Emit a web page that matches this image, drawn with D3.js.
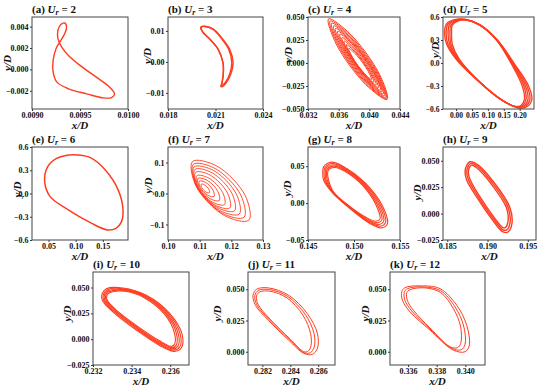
<!DOCTYPE html>
<html>
<head>
<meta charset="utf-8">
<script src="https://cdn.jsdelivr.net/npm/d3@7"></script>
<style>
body { margin: 0; background: #fff; }
</style>
</head>
<body>
<svg id="fig" width="550" height="387" style="font-family: 'Liberation Serif', 'Times New Roman', 'DejaVu Serif', serif; font-weight: bold;"></svg>
<script>
// panel labels and reduced velocities
const labels = ['(a)', '(b)', '(c)', '(d)', '(e)', '(f)', '(g)', '(h)', '(i)', '(j)', '(k)'];
const urValues = [2, 3, 4, 5, 6, 7, 8, 9, 10, 11, 12];

// axis ranges
const xDomains = [[0.009, 0.010], [0.018, 0.024], [0.032, 0.044], [-0.041, 0.245], [0.0196, 0.1963], [0.10, 0.13],
    [0.145, 0.155], [0.18447, 0.19602], [0.232, 0.23697], [0.28097, 0.2872], [0.33474, 0.34137]];
const yDomains = [[-0.0037, 0.0049], [-0.0152, 0.0145], [-0.05, 0.05], [-0.6, 0.6], [-0.6, 0.6], [-0.15, 0.15],
    [-0.05, 0.076], [-0.025, 0.063], [-0.025, 0.065], [-0.0106, 0.0638], [-0.0106, 0.0638]];

// tick values
const xTicks = [[0.009, 0.0095, 0.010], [0.018, 0.021, 0.024], [0.032, 0.036, 0.040, 0.044], [0, 0.05, 0.10, 0.15, 0.20],
    [0.05, 0.10, 0.15], [0.10, 0.11, 0.12, 0.13], [0.145, 0.150, 0.155], [0.185, 0.190, 0.195],
    [0.232, 0.234, 0.236], [0.282, 0.284, 0.286], [0.336, 0.338, 0.340]];
const yTicks = [[-0.002, 0, 0.002, 0.004], [-0.01, 0, 0.01], [-0.05, -0.025, 0, 0.025, 0.05], [-0.6, -0.3, 0, 0.3, 0.6],
    [-0.6, -0.3, 0, 0.3, 0.6], [-0.1, 0, 0.1], [-0.05, 0, 0.05], [-0.025, 0, 0.025, 0.05],
    [-0.025, 0, 0.025, 0.05], [0, 0.025, 0.05], [0, 0.025, 0.05]];
const xFormats = ['.4f', '.3f', '.3f', '.2f', '.2f', '.2f', '.3f', '.3f', '.3f', '.3f', '.3f'];
const yFormats = ['.3f', '.2f', '.3f', '.1f', '.1f', '.1f', '.2f', '.3f', '.3f', '.3f', '.3f'];

// trajectories (x/D, y/D), each panel is a list of loops
const trajA = [[[0.00934, 0.00434], [0.00936, 0.00397], [0.00934, 0.00334], [0.00930, 0.00272], [0.00925, 0.00194],
    [0.00922, 0.00084], [0.00922, -0.00025], [0.00926, -0.00119], [0.00938, -0.00181], [0.00957, -0.00228],
    [0.00974, -0.00266], [0.00983, -0.00263], [0.00986, -0.00228], [0.00981, -0.00166], [0.00967, -0.00072],
    [0.00950, 0.00038], [0.00938, 0.00131], [0.00931, 0.00209], [0.00927, 0.00288], [0.00927, 0.00366],
    [0.00930, 0.00419]]];
const trajB = [
    [[0.02137, -0.00804], [0.02168, -0.00674], [0.02196, -0.00402], [0.02211, -0.00022], [0.02189, 0.00413],
     [0.02137, 0.00793], [0.02084, 0.01065], [0.02032, 0.01152], [0.02006, 0.01120], [0.02021, 0.00957],
     [0.02063, 0.00739], [0.02116, 0.00413], [0.02147, -0.00022], [0.02149, -0.00402], [0.02141, -0.00674]],
    [[0.02134, -0.00790], [0.02162, -0.00665], [0.02189, -0.00400], [0.02203, -0.00020], [0.02183, 0.00410],
     [0.02133, 0.00790], [0.02082, 0.01058], [0.02032, 0.01145], [0.02008, 0.01118], [0.02021, 0.00957],
     [0.02063, 0.00739], [0.02116, 0.00413], [0.02147, -0.00022], [0.02149, -0.00402], [0.02141, -0.00674]]];
const trajC = [
    [[0.04232, -0.0396], [0.04132, -0.0122], [0.0375, 0.0316], [0.03468, 0.048], [0.03568, 0.0206], [0.0395, -0.0232]],
    [[0.04222, -0.0385], [0.0412, -0.0125], [0.03754, 0.0296], [0.03488, 0.0457], [0.0359, 0.0197], [0.03957, -0.0224]],
    [[0.04212, -0.0373], [0.04109, -0.0127], [0.03757, 0.0276], [0.03508, 0.0433], [0.03611, 0.0187], [0.03963, -0.0216]],
    [[0.04197, -0.03545], [0.04096, -0.0125], [0.03765, 0.02545], [0.03534, 0.04045], [0.03634, 0.0175], [0.03965, -0.02045]],
    [[0.04181, -0.0336], [0.04083, -0.0123], [0.03773, 0.0233], [0.03559, 0.0376], [0.03657, 0.0163], [0.03967, -0.0193]],
    [[0.04163, -0.0315], [0.04071, -0.01185], [0.03783, 0.02115], [0.03587, 0.0345], [0.0368, 0.01485], [0.03968, -0.01815]],
    [[0.04145, -0.0294], [0.04059, -0.0114], [0.03793, 0.0190], [0.03615, 0.0314], [0.03702, 0.0134], [0.03968, -0.0170]],
    [[0.04117, -0.02665], [0.04039, -0.0107], [0.03801, 0.0165], [0.03643, 0.02765], [0.03722, 0.0117], [0.0396, -0.0155]],
    [[0.04089, -0.0239], [0.04018, -0.0100], [0.03808, 0.0140], [0.03671, 0.0239], [0.03742, 0.0100], [0.03952, -0.0140]],
    [[0.04059, -0.0209], [0.03998, -0.009], [0.03819, 0.01145], [0.03702, 0.0199], [0.03762, 0.008], [0.03941, -0.01245]],
    [[0.04028, -0.0179], [0.03978, -0.0080], [0.0383, 0.0089], [0.03732, 0.0159], [0.03782, 0.0060], [0.0393, -0.0109]]];
const trajD = [
    [[-0.036, 0.40], [-0.030, 0.51], [-0.005, 0.565], [0.030, 0.570], [0.075, 0.500], [0.130, 0.300], [0.185, -0.020],
     [0.228, -0.300], [0.238, -0.480], [0.222, -0.570], [0.195, -0.585], [0.140, -0.470], [0.060, -0.200], [0.000, 0.050], [-0.030, 0.250]],
    [[-0.031, 0.40], [-0.026, 0.505], [-0.003, 0.56], [0.030, 0.568], [0.0745, 0.499], [0.129, 0.30], [0.183, -0.02],
     [0.223, -0.30], [0.232, -0.478], [0.218, -0.565], [0.193, -0.58], [0.139, -0.469], [0.0605, -0.199], [0.0025, 0.05], [-0.026, 0.25]],
    [[-0.025, 0.40], [-0.021, 0.50], [0.000, 0.555], [0.030, 0.565], [0.074, 0.498], [0.128, 0.300], [0.180, -0.020],
     [0.218, -0.300], [0.226, -0.475], [0.213, -0.560], [0.190, -0.575], [0.138, -0.468], [0.061, -0.198], [0.005, 0.050], [-0.021, 0.250]],
    [[-0.019, 0.40], [-0.016, 0.495], [0.003, 0.55], [0.030, 0.5625], [0.0735, 0.4965], [0.1275, 0.30], [0.1775, -0.02],
     [0.213, -0.30], [0.22, -0.4725], [0.209, -0.555], [0.1875, -0.57], [0.1375, -0.4665], [0.0615, -0.1965], [0.0075, 0.05], [-0.0165, 0.25]],
    [[-0.014, 0.40], [-0.012, 0.49], [0.005, 0.545], [0.030, 0.560], [0.073, 0.495], [0.127, 0.300], [0.175, -0.020],
     [0.208, -0.300], [0.215, -0.470], [0.205, -0.550], [0.185, -0.565], [0.137, -0.465], [0.062, -0.195], [0.010, 0.050], [-0.012, 0.250]]];
const trajE = [[[0.104, 0.497], [0.128, 0.46], [0.155, 0.30], [0.178, 0.05], [0.187, -0.2], [0.184, -0.37],
    [0.174, -0.45], [0.158, -0.47], [0.128, -0.38], [0.085, -0.205], [0.053, -0.04], [0.043, 0.15],
    [0.048, 0.34], [0.064, 0.45], [0.084, 0.495]]];
const trajF = [
    [[0.12553, -0.086], [0.12437, -0.0064], [0.11547, 0.0882], [0.10773, 0.1032], [0.10889, 0.0236], [0.11779, -0.071]],
    [[0.12402, -0.0767], [0.12297, -0.005], [0.11495, 0.0803], [0.10798, 0.0939], [0.10903, 0.0222], [0.11705, -0.0631]],
    [[0.12252, -0.0663], [0.1216, -0.0022], [0.11446, 0.0738], [0.10822, 0.0857], [0.10914, 0.0216], [0.11628, -0.0544]],
    [[0.12101, -0.0559], [0.12019, 0.0002], [0.11391, 0.0669], [0.10847, 0.0775], [0.10929, 0.0214], [0.11557, -0.0453]],
    [[0.11951, -0.0466], [0.11878, 0.0015], [0.11338, 0.0589], [0.10871, 0.0682], [0.10944, 0.0201], [0.11484, -0.0373]],
    [[0.11785, -0.0357], [0.11725, 0.0032], [0.11287, 0.0497], [0.10909, 0.0573], [0.10969, 0.0184], [0.11407, -0.0281]],
    [[0.1162, -0.0228], [0.11573, 0.007], [0.11237, 0.0427], [0.10948, 0.0486], [0.10995, 0.0188], [0.11331, -0.0168]],
    [[0.11454, -0.0097], [0.11421, 0.0109], [0.11187, 0.0357], [0.10988, 0.0399], [0.11021, 0.0193], [0.11255, -0.0055]],
    [[0.1131, 0.0021], [0.11291, 0.0136], [0.11159, 0.0276], [0.11048, 0.0301], [0.11067, 0.0186], [0.11199, 0.0047]]];
const trajG = [
    [[0.1467, 0.0491], [0.1476, 0.0555], [0.1492, 0.0468], [0.1518, 0.0195], [0.1534, -0.0123], [0.15363, -0.0282],
     [0.1530, -0.0336], [0.1518, -0.0282], [0.1496, -0.0077], [0.1476, 0.015], [0.1467, 0.0309], [0.1466, 0.0423]],
    [[0.14684, 0.0482], [0.14769, 0.0537], [0.14925, 0.0451], [0.1517, 0.01895], [0.15322, -0.01175], [0.15343, -0.0265],
     [0.15285, -0.0313], [0.1517, -0.02615], [0.14955, -0.0066], [0.14765, 0.015], [0.14684, 0.0309], [0.14674, 0.04175]],
    [[0.14697, 0.0473], [0.14778, 0.0519], [0.1493, 0.0434], [0.1516, 0.0184], [0.15303, -0.0112], [0.15323, -0.0248],
     [0.1527, -0.029], [0.1516, -0.0241], [0.1495, -0.0055], [0.14769, 0.015], [0.14697, 0.0309], [0.14687, 0.0412]],
    [[0.14711, 0.0464], [0.14787, 0.05005], [0.14935, 0.0417], [0.1515, 0.01785], [0.15284, -0.0106], [0.15303, -0.0231],
     [0.15255, -0.02675], [0.1515, -0.02205], [0.14945, -0.00435], [0.14774, 0.015], [0.14711, 0.0309], [0.147, 0.0406]],
    [[0.14724, 0.0455], [0.14796, 0.0482], [0.1494, 0.04], [0.1514, 0.0173], [0.15265, -0.01], [0.15283, -0.0214],
     [0.1524, -0.0245], [0.1514, -0.02], [0.1494, -0.0032], [0.14778, 0.015], [0.14724, 0.0309], [0.14713, 0.04]]];
const trajH = [
    [[0.18734, 0.0443], [0.18783, 0.049], [0.18885, 0.0459], [0.1909, 0.0285], [0.19275, 0.0063], [0.19303, -0.0095],
     [0.19254, -0.0174], [0.19193, -0.0174], [0.19049, -0.0047], [0.18865, 0.0158], [0.18742, 0.0316], [0.18721, 0.0396]],
    [[0.18755, 0.044], [0.18793, 0.0475], [0.18875, 0.0447], [0.19074, 0.0277], [0.19255, 0.006], [0.19279, -0.0087],
     [0.19238, -0.0154], [0.19191, -0.0154], [0.1906, -0.0036], [0.18879, 0.0166], [0.18763, 0.032], [0.18742, 0.0391]],
    [[0.18775, 0.0437], [0.18803, 0.0459], [0.18865, 0.0434], [0.19057, 0.0269], [0.19234, 0.0057], [0.19254, -0.0079],
     [0.19221, -0.0133], [0.19189, -0.0133], [0.1907, -0.0025], [0.18893, 0.0174], [0.18783, 0.0323], [0.18762, 0.0386]]];
const trajI = [
    [[0.23247, 0.044], [0.23269, 0.0488], [0.23355, 0.0495], [0.23476, 0.0425], [0.23597, 0.0249], [0.23662, 0.0041],
     [0.23657, -0.0086], [0.23622, -0.0118], [0.23545, -0.0061], [0.23424, 0.0089], [0.23303, 0.0265], [0.23248, 0.0377]],
    [[0.23254, 0.04365], [0.23274, 0.04785], [0.23358, 0.0487], [0.23474, 0.04185], [0.23591, 0.02465], [0.23652, 0.0045],
     [0.23649, -0.00765], [0.23618, -0.0106], [0.23545, -0.005], [0.23427, 0.0097], [0.23308, 0.0269], [0.23255, 0.0377]],
    [[0.2326, 0.0433], [0.23278, 0.0469], [0.2336, 0.0479], [0.23472, 0.0412], [0.23584, 0.0244], [0.23642, 0.0049],
     [0.2364, -0.0067], [0.23614, -0.0094], [0.23545, -0.0039], [0.23429, 0.0105], [0.23312, 0.0273], [0.23261, 0.0377]],
    [[0.23266, 0.0429], [0.23282, 0.04595], [0.23362, 0.0471], [0.2347, 0.04055], [0.23578, 0.02415], [0.23632, 0.0053],
     [0.23631, -0.00575], [0.2361, -0.0082], [0.23545, -0.00275], [0.23431, 0.0113], [0.23317, 0.0277], [0.23268, 0.0377]],
    [[0.23272, 0.0425], [0.23286, 0.045], [0.23364, 0.0463], [0.23467, 0.0399], [0.23571, 0.0239], [0.23622, 0.0057],
     [0.23622, -0.0048], [0.23605, -0.007], [0.23545, -0.0016], [0.23433, 0.0121], [0.23321, 0.0281], [0.23274, 0.0377]]];
const trajJ = [
    [[0.28133, 0.0452], [0.28158, 0.05], [0.28242, 0.0511], [0.28388, 0.0452], [0.28521, 0.0306], [0.28594, 0.0146],
     [0.28594, 0.0027], [0.28558, -0.0021], [0.28497, -0.0013], [0.28388, 0.0093], [0.28242, 0.0253], [0.2815, 0.0372]],
    [[0.28146, 0.045], [0.2817, 0.049], [0.28249, 0.0498], [0.28382, 0.0442], [0.28506, 0.03], [0.2857, 0.0146],
     [0.28571, 0.0038], [0.28543, -0.0008], [0.28497, -0.0007], [0.28394, 0.0097], [0.28249, 0.0257], [0.2816, 0.0375]],
    [[0.28158, 0.0447], [0.28182, 0.0479], [0.28255, 0.0484], [0.28376, 0.0431], [0.2849, 0.0293], [0.28545, 0.0146],
     [0.28548, 0.0048], [0.28528, 0.0005], [0.28497, 0.0], [0.284, 0.0101], [0.28255, 0.0261], [0.2817, 0.0378]]];
const trajK = [
    [[0.33556, 0.0479], [0.33579, 0.0513], [0.33684, 0.0527], [0.33823, 0.0505], [0.3394, 0.0372], [0.34009, 0.0213],
     [0.34028, 0.0053], [0.33998, 0.0], [0.33916, 0.0013], [0.33753, 0.0173], [0.33614, 0.0319], [0.33561, 0.0412]],
    [[0.33574, 0.0476], [0.33597, 0.0505], [0.33702, 0.0519], [0.33826, 0.0489], [0.33928, 0.0359], [0.33988, 0.0206],
     [0.33998, 0.006], [0.33971, 0.0016], [0.33905, 0.0027], [0.33753, 0.0182], [0.33626, 0.0326], [0.33578, 0.0412]],
    [[0.33591, 0.0473], [0.33614, 0.0497], [0.33719, 0.0511], [0.33828, 0.0473], [0.33916, 0.0346], [0.33967, 0.0199],
     [0.33967, 0.0066], [0.33944, 0.0032], [0.33893, 0.004], [0.33753, 0.0191], [0.33637, 0.0332], [0.33595, 0.0412]]];
const trajectories = [trajA, trajB, trajC, trajD, trajE, trajF, trajG, trajH, trajI, trajJ, trajK];

// layout: [left, top, width, height] of each frame
const boxes = [[32, 17, 96, 92], [168, 17, 95, 92], [308, 17, 92, 92], [443, 17, 91, 92],
    [32, 147, 96, 93], [168, 147, 95, 93], [308, 147, 92, 93], [443, 147, 93, 93],
    [93, 272, 96, 93], [248, 272, 87, 93], [390, 272, 95, 93]];
const yTitleOffsets = [25, 21, 20, 8, 15, 20, 21, 26, 26, 31, 25];
const yTitleShift = [0, -7, -8, -13, -4, -8, -5, -1, -5, -5, -5];
const strokeWidths = [1.4, 1.4, 1.0, 1.3, 1.5, 0.9, 1.1, 1.4, 1.1, 1.0, 1.0];
const red = '#ff3c1f';
const serif = "'Liberation Serif', 'Times New Roman', 'DejaVu Serif', serif";

const svg = d3.select('#fig');
svg.append('rect').attr('width', 550).attr('height', 387).attr('fill', '#fff');

boxes.forEach((b, i) => {
    const [bx, by, bw, bh] = b;
    const x = d3.scaleLinear().domain(xDomains[i]).range([bx, bx + bw]);
    const y = d3.scaleLinear().domain(yDomains[i]).range([by + bh, by]);
    const g = svg.append('g');

    g.append('clipPath').attr('id', 'clip' + i)
        .append('rect').attr('x', bx).attr('y', by).attr('width', bw).attr('height', bh);

    const line = d3.line()
        .x(d => x(d[0]))
        .y(d => y(d[1]))
        .curve(d3.curveCatmullRomClosed);

    g.append('g')
        .attr('clip-path', 'url(#clip' + i + ')')
        .selectAll('path')
        .data(trajectories[i])
        .enter()
        .append('path')
        .attr('d', line)
        .attr('fill', 'none')
        .attr('stroke', red)
        .attr('stroke-width', strokeWidths[i]);

    const xAxis = g.append('g')
        .attr('transform', 'translate(0,' + (by + bh) + ')')
        .call(d3.axisBottom(x).tickValues(xTicks[i]).tickFormat(d3.format(xFormats[i])).tickSize(2).tickPadding(1.5));
    const yAxis = g.append('g')
        .attr('transform', 'translate(' + bx + ',0)')
        .call(d3.axisLeft(y).tickValues(yTicks[i]).tickFormat(d3.format(yFormats[i])).tickSize(2).tickPadding(1.5));
    [xAxis, yAxis].forEach(a => {
        a.select('.domain').remove();
        a.attr('font-family', serif).attr('font-size', i === 3 ? 7.5 : 8).attr('font-weight', 'bold');
        a.selectAll('line').attr('stroke', '#333');
        a.selectAll('text').attr('fill', '#111');
    });

    g.append('rect')
        .attr('x', bx).attr('y', by).attr('width', bw).attr('height', bh)
        .attr('fill', 'none').attr('stroke', '#444').attr('stroke-width', 1);

    const t = g.append('text').attr('x', bx).attr('y', by - 4)
        .attr('font-family', serif).attr('font-weight', 'bold').attr('font-size', 11).attr('fill', '#111');
    t.append('tspan').text(labels[i] + ' ');
    t.append('tspan').attr('font-style', 'italic').text('U');
    t.append('tspan').attr('font-style', 'italic').attr('font-size', 8).attr('dy', 2).text('r');
    t.append('tspan').attr('dy', -2).text(' = ' + urValues[i]);

    g.append('text')
        .attr('x', bx + bw / 2).attr('y', by + bh + 20)
        .attr('text-anchor', 'middle').attr('font-family', serif).attr('font-weight', 'bold')
        .attr('font-size', 11).attr('font-style', 'italic').attr('fill', '#111')
        .text('x/D');
    g.append('text')
        .attr('transform', 'translate(' + (bx - yTitleOffsets[i]) + ',' + (by + bh / 2 + yTitleShift[i]) + ') rotate(-90)')
        .attr('text-anchor', 'middle').attr('dy', '0.35em').attr('font-family', serif).attr('font-weight', 'bold')
        .attr('font-size', 11).attr('font-style', 'italic').attr('fill', '#111')
        .text('y/D');
});
</script>
</body>
</html>
